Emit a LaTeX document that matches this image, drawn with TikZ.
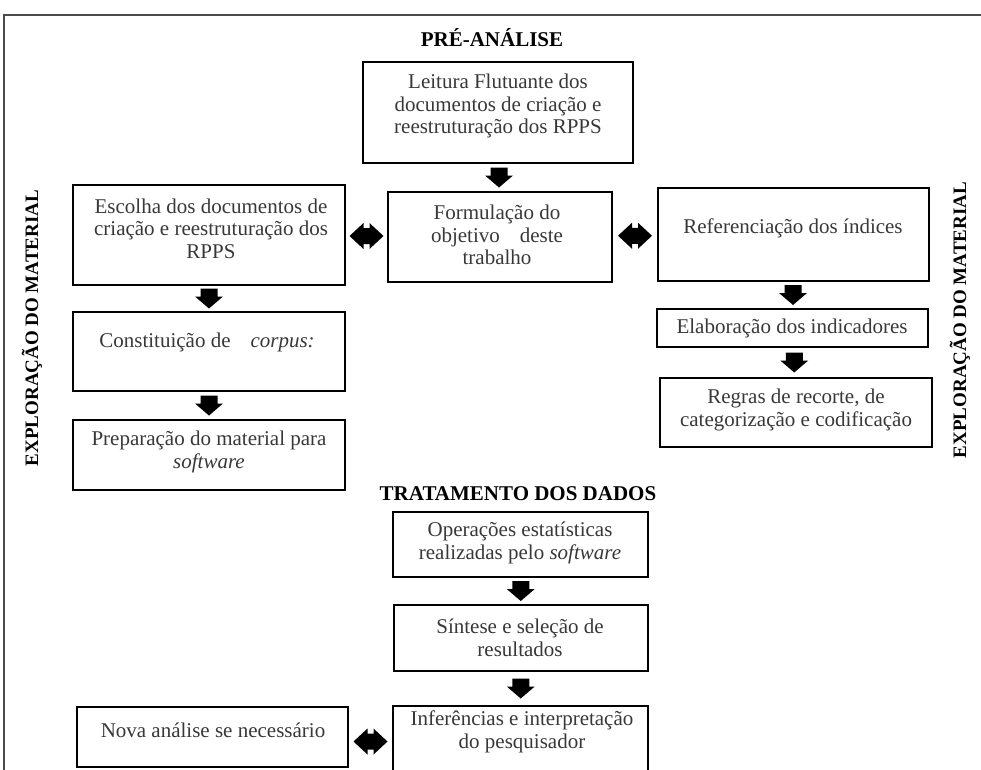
\documentclass[tikz,border=0pt]{standalone}
\usepackage{fontspec}
\setmainfont{Liberation Serif}
\usetikzlibrary{calc}
\begin{document}
\begin{tikzpicture}[x=1pt,y=-1pt,
  box/.style={draw=black, line width=1.6pt, inner sep=0pt},
  txt/.style={align=center, inner sep=0pt, text=black!78, font=\fontsize{21}{22.5}\selectfont},
  ttl/.style={inner sep=0pt, font=\bfseries\fontsize{21}{24}\selectfont},
  vttl/.style={inner sep=0pt, rotate=90, font=\bfseries\fontsize{19}{22}\selectfont},
  downarr/.pic={\fill[black] (-8.5,-10) -- (8.5,-10) -- (8.5,-2) -- (14,-2) -- (0,10) -- (-14,-2) -- (-8.5,-2) -- cycle;},
  dblarr/.pic={\fill[black] (-17,0) -- (-3,-13) -- (-3,-8) -- (3,-8) -- (3,-13) -- (17,0) -- (3,13) -- (3,8) -- (-3,8) -- (-3,13) -- cycle;}
]
\useasboundingbox (0,0) rectangle (981,769);
% frame
\coordinate (fbl) at (4,775);
\coordinate (ftl) at (4,15);
\coordinate (ftr) at (985,15);
\draw[black!70, line width=1.5pt] (fbl) -- (ftl) -- (ftr);

% titles
\node[ttl] (pre) at (492,38) {PRÉ-ANÁLISE};
\node[ttl] (trat) at (518,494) {TRATAMENTO DOS DADOS};
\node[vttl] (explL) at (32,328) {EXPLORAÇÃO DO MATERIAL};
\node[vttl] (explR) at (960,320) {EXPLORAÇÃO DO MATERIAL};

% boxes
\node[box, minimum width=270pt, minimum height=101pt] (leit) at (498,112.5) {};
\node[box, minimum width=272pt, minimum height=100pt] (esc) at (209,235) {};
\node[box, minimum width=224pt, minimum height=90pt] (form) at (500,237) {};
\node[box, minimum width=271pt, minimum height=93pt] (ref) at (793.5,234.5) {};
\node[box, minimum width=271pt, minimum height=38pt] (elab) at (792.5,328) {};
\node[box, minimum width=272pt, minimum height=69pt] (regr) at (796,412.5) {};
\node[box, minimum width=272pt, minimum height=79pt] (const) at (209,351.5) {};
\node[box, minimum width=272pt, minimum height=70pt] (prep) at (209,455) {};
\node[box, minimum width=255pt, minimum height=65pt] (oper) at (520.5,544.5) {};
\node[box, minimum width=254pt, minimum height=66pt] (sint) at (521,638) {};
\node[box, minimum width=255pt, minimum height=80pt] (inf) at (520.5,746) {};
\node[box, minimum width=271pt, minimum height=60pt] (nova) at (212.5,737) {};

% texts
\node[txt] (leitT) at (498,106) {Leitura Flutuante dos\\documentos de criação e\\reestruturação dos RPPS};
\node[txt] (escT) at (211,228.5) {Escolha dos documentos de\\criação e reestruturação dos\\RPPS};
\node[txt] (formT) at (497,235) {Formulação do\\objetivo\hspace{0.95em}deste\\trabalho};
\node[txt] (refT) at (793,228) {Referenciação dos índices};
\node[txt] (elabT) at (792,328) {Elaboração dos indicadores};
\node[txt] (regrT) at (796,410) {Regras de recorte, de\\categorização e codificação};
\node[txt] (constT) at (207,342) {Constituição de\hspace{0.95em}\textit{corpus:}};
\node[txt] (prepT) at (209,452) {Preparação do material para\\\textit{software}};
\node[txt] (operT) at (520,543) {Operações estatísticas\\realizadas pelo \textit{software}};
\node[txt] (sintT) at (520,638) {Síntese e seleção de\\resultados};
\node[txt] (infT) at (522,732) {Inferências e interpretação\\do pesquisador};
\node[txt] (novaT) at (213,730) {Nova análise se necessário};

% block arrows
\pic at ($(leit.south)!0.5!(form.north)$) {downarr};
\pic at ($(esc.south)!0.5!(const.north)$) {downarr};
\pic at ($(const.south)!0.5!(prep.north)$) {downarr};
\pic at ($(ref.south)!0.5!(elab.north)$) {downarr};
\pic at ($(elab.south)!0.5!(regr.north)$) {downarr};
\pic at ($(oper.south)!0.5!(sint.north)$) {downarr};
\pic at ($(sint.south)!0.5!(inf.north)$) {downarr};

% double arrows
\pic at ($(esc.east)!0.5!(form.west)$) {dblarr};
\pic at ($(form.east)!0.5!(ref.west)$) {dblarr};
\pic at ($(nova.east)!0.5!(inf.west)$) {dblarr};
\end{tikzpicture}
\end{document}
